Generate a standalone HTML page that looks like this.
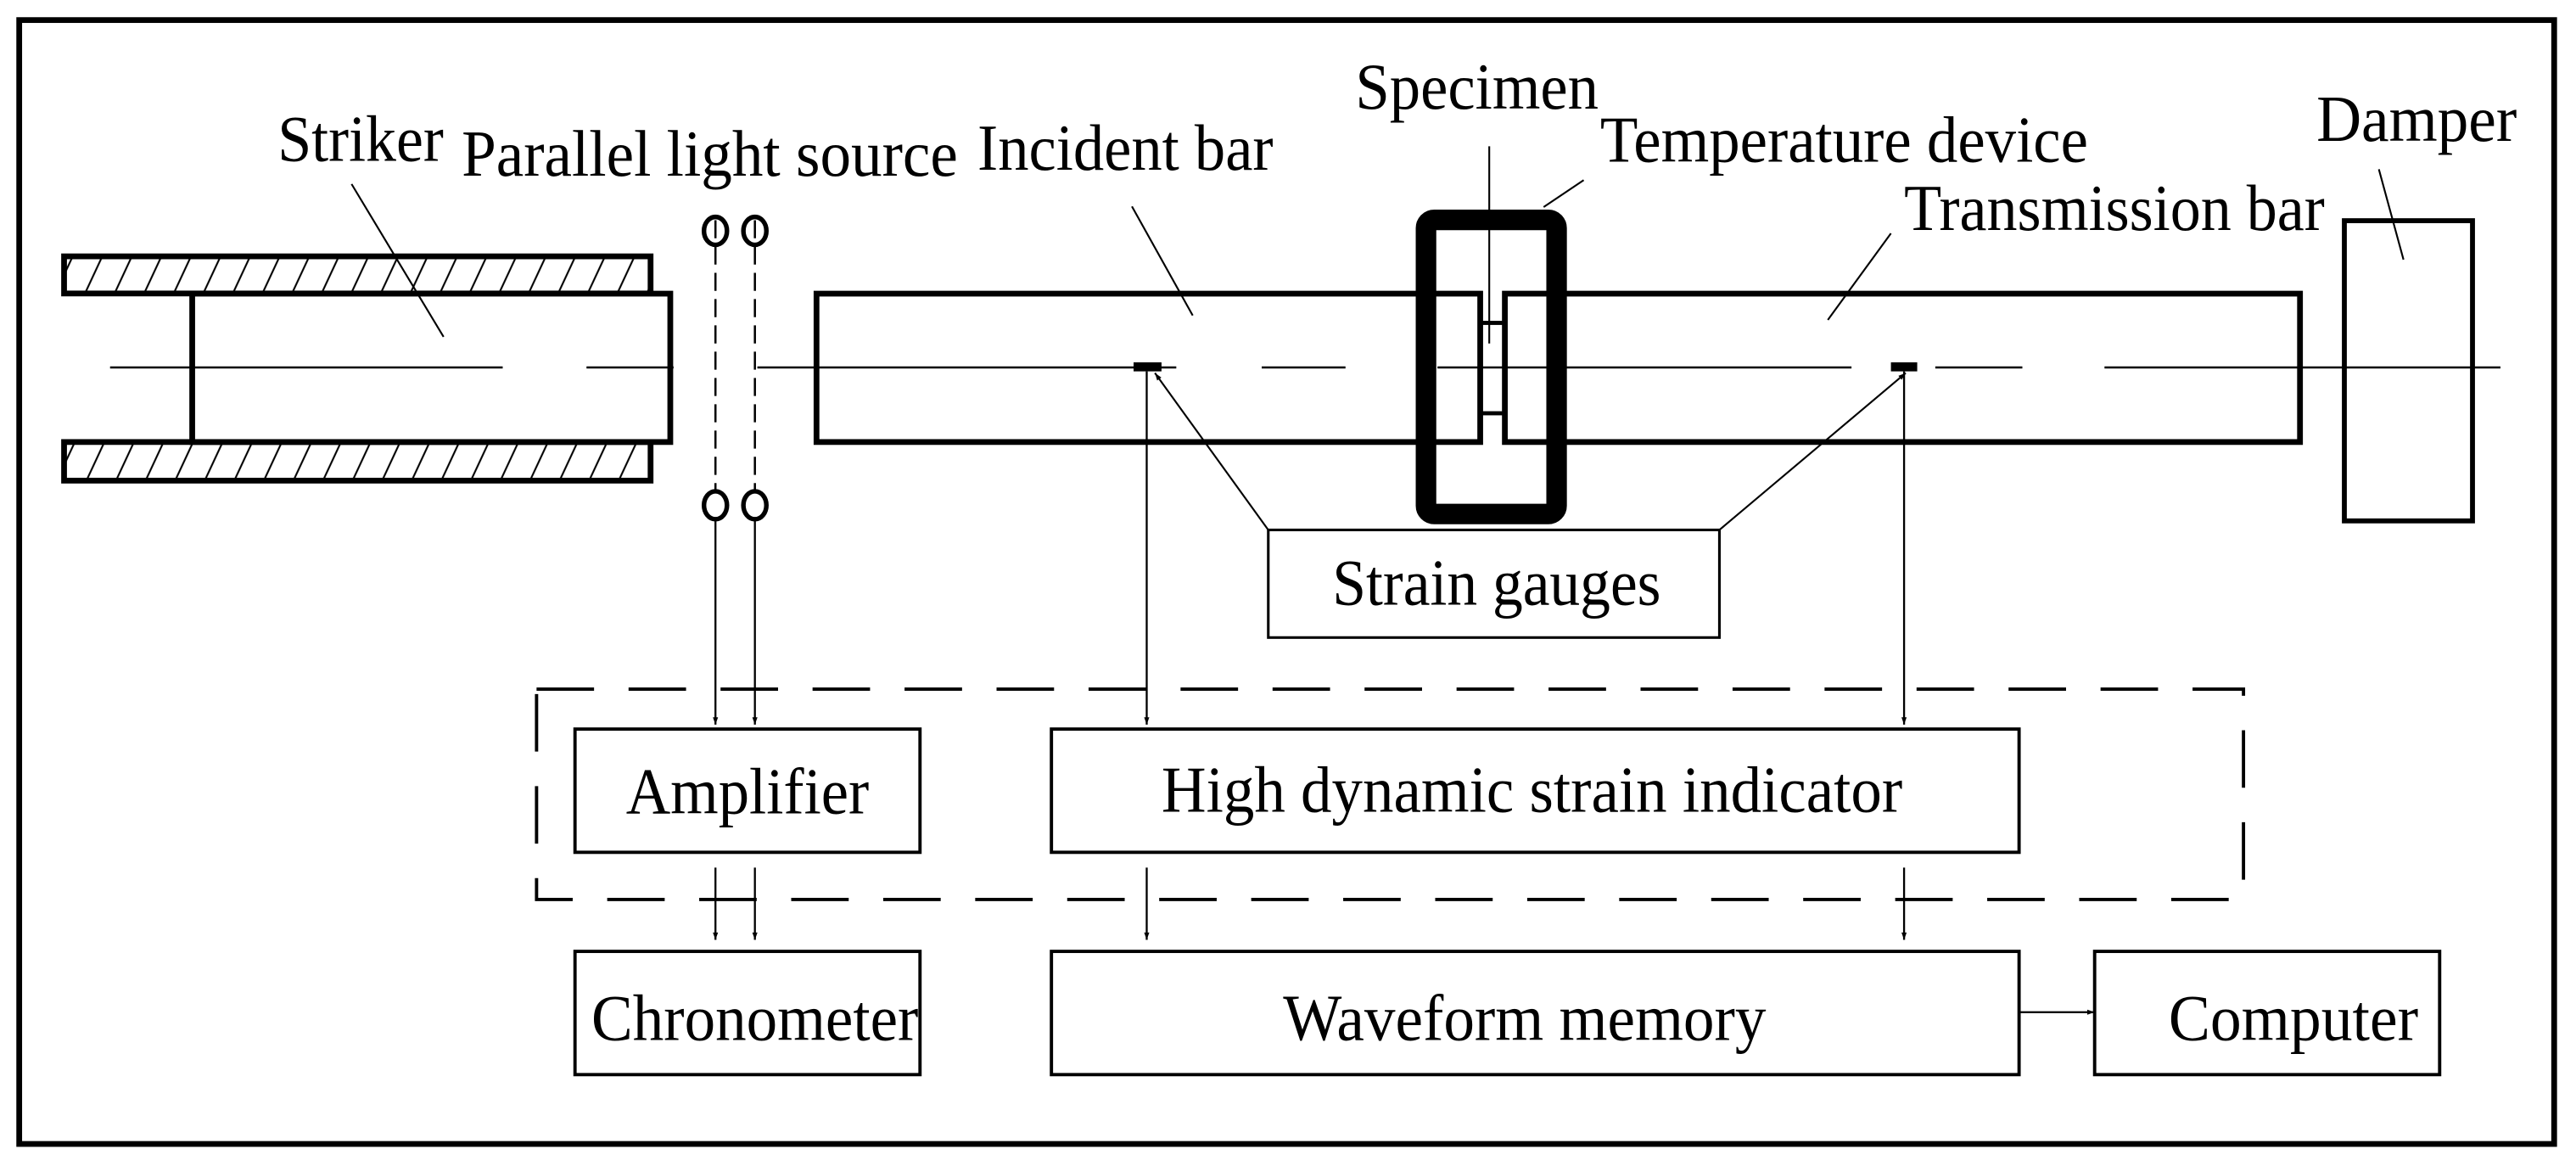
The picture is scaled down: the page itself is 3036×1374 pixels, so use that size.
<!DOCTYPE html>
<html><head><meta charset="utf-8"><style>html,body{margin:0;padding:0;background:#fff}svg{display:block}</style></head><body>
<svg width="3036" height="1374" viewBox="0 0 1568 709.6" xmlns="http://www.w3.org/2000/svg" font-family="Liberation Serif, serif" fill="none" stroke="#000">
<defs>
<pattern id="h" patternUnits="userSpaceOnUse" width="18" height="24" patternTransform="skewX(-25)">
<line x1="9" y1="0" x2="9" y2="24" stroke="#000" stroke-width="1.2"/>
</pattern>
<marker id="a" viewBox="0 0 10 10" refX="10" refY="5" markerWidth="10" markerHeight="4.5" markerUnits="userSpaceOnUse" orient="auto"><path d="M0,1.5 L10,5 L0,8.5 Z" fill="#000" stroke="none"/></marker>
</defs>
<rect x="0" y="0" width="1568" height="710" fill="#fff" stroke="none"/>
<rect x="11.7" y="12.2" width="1543" height="684" stroke-width="3.5"/>

<rect x="39" y="156" width="357" height="22.6" fill="url(#h)" stroke-width="3.5"/>
<rect x="39" y="269" width="357" height="23.5" fill="url(#h)" stroke-width="3.5"/>
<rect x="117" y="178.7" width="291" height="90.3" fill="#fff" stroke-width="3.5"/>
<g stroke-width="1.3">
<line x1="67" y1="223.6" x2="306" y2="223.6"/>
<line x1="357" y1="223.6" x2="410" y2="223.6"/>
<line x1="461" y1="223.6" x2="716" y2="223.6"/>
<line x1="768" y1="223.6" x2="819" y2="223.6"/>
<line x1="875" y1="223.6" x2="1127" y2="223.6"/>
<line x1="1178" y1="223.6" x2="1231" y2="223.6"/>
<line x1="1281" y1="223.6" x2="1522" y2="223.6"/>
</g>
<rect x="497" y="178.7" width="404" height="90.3" stroke-width="3.5"/>
<rect x="916" y="178.7" width="484" height="90.3" stroke-width="3.5"/>
<rect x="901" y="196.5" width="15" height="55" stroke-width="2.5"/>
<rect x="868" y="133.8" width="79.5" height="179" rx="5" stroke-width="12.5"/>
<rect x="1427" y="134.3" width="78" height="182.7" stroke-width="3"/>
<rect x="690" y="220.5" width="17" height="5.5" fill="#000" stroke="none"/>
<rect x="1151" y="220.5" width="16" height="5.5" fill="#000" stroke="none"/>

<g stroke-width="2.8">
<ellipse cx="435.5" cy="140.5" rx="7" ry="8.5"/>
<ellipse cx="459.5" cy="140.5" rx="7" ry="8.5"/>
<ellipse cx="435.5" cy="307.5" rx="7" ry="8.5"/>
<ellipse cx="459.5" cy="307.5" rx="7" ry="8.5"/>
</g>
<g stroke-width="1.3" stroke-dasharray="11,5">
<line x1="435.5" y1="134" x2="435.5" y2="300"/>
<line x1="459.5" y1="134" x2="459.5" y2="300"/>
</g>

<g stroke-width="1.1">
<line x1="214" y1="112" x2="270" y2="205"/>
<line x1="689" y1="125.6" x2="726" y2="192"/>
<line x1="906.5" y1="89" x2="906.5" y2="209"/>
<line x1="964" y1="109.6" x2="939.6" y2="126"/>
<line x1="1151" y1="142" x2="1112.6" y2="194.7"/>
<line x1="1448" y1="103" x2="1463" y2="158"/>
<line x1="772" y1="322.5" x2="703" y2="227" marker-end="url(#a)"/>
<line x1="1046.6" y1="322.5" x2="1160" y2="227" marker-end="url(#a)"/>
</g>

<rect x="772" y="322.5" width="274.6" height="65.5" stroke-width="1.6" fill="#fff"/>
<rect x="326.6" y="419.4" width="1039" height="128" stroke-width="2" stroke-dasharray="35,21"/>

<g stroke-width="2">
<rect x="350" y="443.7" width="210" height="75"/>
<rect x="640" y="443.7" width="589" height="75"/>
<rect x="350" y="579" width="210" height="75"/>
<rect x="640" y="579" width="589" height="75"/>
<rect x="1275" y="579" width="210" height="75"/>
</g>

<g stroke-width="1.2" marker-end="url(#a)">
<line x1="435.5" y1="316" x2="435.5" y2="441"/>
<line x1="459.5" y1="316" x2="459.5" y2="441"/>
<line x1="698" y1="226" x2="698" y2="441"/>
<line x1="1159" y1="226" x2="1159" y2="441"/>
<line x1="435.5" y1="528" x2="435.5" y2="572"/>
<line x1="459.5" y1="528" x2="459.5" y2="572"/>
<line x1="698" y1="528" x2="698" y2="572"/>
<line x1="1159" y1="528" x2="1159" y2="572"/>
<line x1="1229" y1="616" x2="1275" y2="616"/>
</g>

<g fill="#000" stroke="none" font-size="40">
<text x="169" y="97.8" textLength="101" lengthAdjust="spacingAndGlyphs">Striker</text>
<text x="281" y="106.8" textLength="302" lengthAdjust="spacingAndGlyphs">Parallel light source</text>
<text x="595" y="103.3" textLength="180" lengthAdjust="spacingAndGlyphs">Incident bar</text>
<text x="825" y="66" textLength="148" lengthAdjust="spacingAndGlyphs">Specimen</text>
<text x="974" y="98.5" textLength="297" lengthAdjust="spacingAndGlyphs">Temperature device</text>
<text x="1159" y="140" textLength="256" lengthAdjust="spacingAndGlyphs">Transmission bar</text>
<text x="1410" y="85.8" textLength="122" lengthAdjust="spacingAndGlyphs">Damper</text>
<text x="811" y="368" textLength="200" lengthAdjust="spacingAndGlyphs">Strain gauges</text>
<text x="381" y="495" textLength="148" lengthAdjust="spacingAndGlyphs">Amplifier</text>
<text x="707" y="494" textLength="451" lengthAdjust="spacingAndGlyphs">High dynamic strain indicator</text>
<text x="360" y="633" textLength="199" lengthAdjust="spacingAndGlyphs">Chronometer</text>
<text x="781" y="633" textLength="294" lengthAdjust="spacingAndGlyphs">Waveform memory</text>
<text x="1320" y="633" textLength="152" lengthAdjust="spacingAndGlyphs">Computer</text>
</g>
</svg>
</body></html>
